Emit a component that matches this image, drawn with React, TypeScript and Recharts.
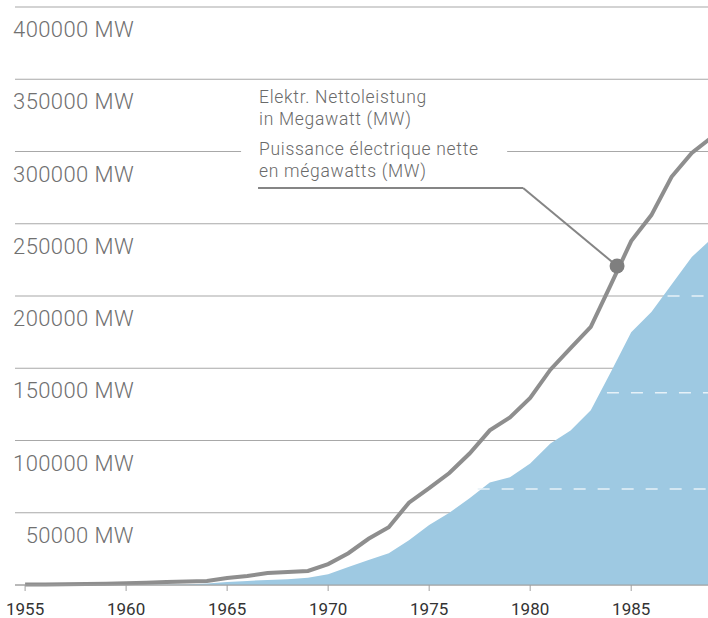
import React from 'react';
import {
  ComposedChart, Area, Line, XAxis, YAxis, CartesianGrid,
  ReferenceLine, ReferenceArea, ReferenceDot,
} from 'recharts';

const years = [
  1955, 1956, 1957, 1958, 1959, 1960, 1961, 1962, 1963, 1964,
  1965, 1966, 1967, 1968, 1969, 1970, 1971, 1972, 1973, 1974,
  1975, 1976, 1977, 1978, 1979, 1980, 1981, 1982, 1983, 1984,
  1985, 1986, 1987, 1988, 1989,
];
const netCapacity = [
  300, 400, 500, 700, 900, 1200, 1500, 2100, 2400, 2800,
  4800, 6200, 8300, 9000, 9700, 14500, 22000, 32000, 40000, 57000,
  67000, 77500, 91000, 107000, 116000, 129500, 149000, 164000, 178700, 208000,
  238000, 256000, 282500, 299000, 310000,
];
const blueArea = [
  0, 0, 0, 0, 0, 0, 100, 200, 300, 1000,
  2000, 2800, 3500, 4000, 5000, 7500, 12500, 17300, 22000, 31000,
  41500, 50000, 60000, 71000, 74500, 84000, 98000, 107000, 121000, 147500,
  175000, 189000, 208000, 227000, 240000,
];
const xTicks = [1955, 1960, 1965, 1970, 1975, 1980, 1985];
const yTicks = [0, 50000, 100000, 150000, 200000, 250000, 300000, 350000, 400000];

const dashLevels = [66500, 133000, 200000];
const dashStarts = [1977.4, 1983.8, 1986.8];

const annotationLines = [
  'Elektr. Nettoleistung',
  'in Megawatt (MW)',
  'Puissance électrique nette',
  'en mégawatts (MW)',
];
const connector = [
  { x: 1966.53, y: 274740 },
  { x: 1979.65, y: 274740 },
  { x: 1984.3, y: 220760 },
];
const gapBox = { x1: 1965.69, x2: 1978.86, y1: 296000, y2: 304000 };

const data = years.map((year, i) => ({
  year,
  total: netCapacity[i],
  blue: blueArea[i],
}));

const renderYTick = (props: any) => {
  const { y, payload } = props;
  if (payload.value === 0) return <g />;
  return (
    <text
      x={134}
      y={y + 30}
      fill="#707070"
      fontSize={22}
      letterSpacing={0.4}
      fontFamily="Roboto, sans-serif"
      fontWeight={300}
      textAnchor="end"
    >
      {`${payload.value} MW`}
    </text>
  );
};

export default function App() {
  return (
    <div
      style={{
        position: 'absolute', left: 0, top: 0, width: 708, height: 618,
        overflow: 'hidden', background: '#fff',
      }}
    >
      <ComposedChart
        width={712}
        height={618}
        data={data}
        margin={{ top: 7, right: 0, bottom: 0, left: 14 }}
      >
        <CartesianGrid vertical={false} stroke="#a8a8a8" strokeWidth={1.2} />
        <XAxis
          dataKey="year"
          type="number"
          domain={[1954.5, 1989]}
          ticks={xTicks}
          allowDataOverflow
          height={33}
          stroke="#a0a0a0"
          tickSize={6}
          tickMargin={12}
          tick={{ fill: '#333', fontSize: 17, fontFamily: 'Roboto, sans-serif', fontWeight: 400 }}
        />
        <YAxis
          type="number"
          domain={[0, 400000]}
          ticks={yTicks}
          width={1}
          axisLine={false}
          tickLine={false}
          tick={renderYTick}
          interval={0}
        />
        <Area
          dataKey="blue"
          type="linear"
          fill="#9ec9e2"
          fillOpacity={1}
          stroke="none"
          isAnimationActive={false}
        />
        {dashLevels.map((v, i) => (
          <ReferenceLine
            key={v}
            segment={[{ x: dashStarts[i], y: v }, { x: 1989, y: v }]}
            stroke="#e6f1f8"
            strokeWidth={1.5}
            strokeDasharray="12 12"
          />
        ))}
        <ReferenceArea
          x1={gapBox.x1}
          x2={gapBox.x2}
          y1={gapBox.y1}
          y2={gapBox.y2}
          fill="#ffffff"
          fillOpacity={1}
          stroke="none"
        />
        <Line
          dataKey="total"
          type="linear"
          stroke="#8e8e8e"
          strokeWidth={4}
          dot={false}
          isAnimationActive={false}
        />
        <ReferenceLine segment={[connector[0], connector[1]]} stroke="#858585" strokeWidth={2} />
        <ReferenceLine segment={[connector[1], connector[2]]} stroke="#858585" strokeWidth={2} />
        <ReferenceDot x={connector[2].x} y={connector[2].y} r={7.5} fill="#7f7f7f" stroke="none" />
      </ComposedChart>
      <svg
        width={708}
        height={618}
        style={{ position: 'absolute', left: 0, top: 0, pointerEvents: 'none' }}
      >
        {annotationLines.map((t, i) => (
          <text
            key={t}
            x={259}
            y={[103, 125, 155, 177][i]}
            fill="#6a6a6a"
            fontSize={17.5}
            letterSpacing={0.7}
            fontFamily="Roboto, sans-serif"
            fontWeight={300}
          >
            {t}
          </text>
        ))}
      </svg>
    </div>
  );
}
